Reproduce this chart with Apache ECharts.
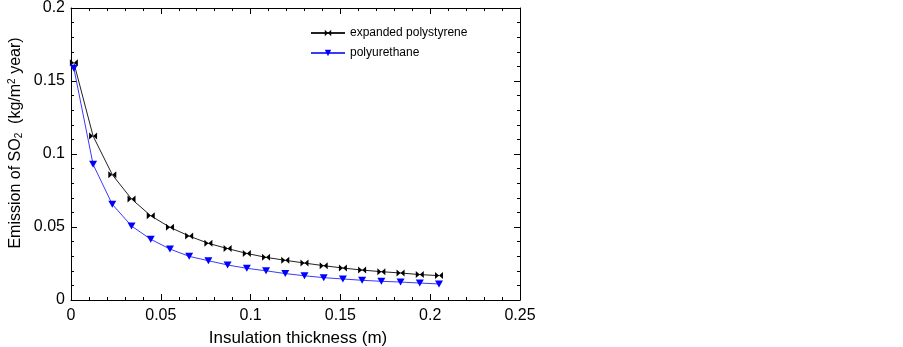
<!DOCTYPE html>
<html>
<head>
<meta charset="utf-8">
<script src="https://cdn.jsdelivr.net/npm/echarts@6/dist/echarts.min.js"></script>
<style>
  html, body { margin: 0; padding: 0; background: #fff; }
  #chart { width: 903px; height: 347px; }
</style>
</head>
<body>
<div id="chart"></div>
<script>
const thickness = [0.0016, 0.0123, 0.0230, 0.0337, 0.0444, 0.0551, 0.0658, 0.0765, 0.0872, 0.0979,
  0.1086, 0.1193, 0.1300, 0.1407, 0.1514, 0.1621, 0.1728, 0.1835, 0.1942, 0.2049];
const polystyrene = [0.1625, 0.1123, 0.0858, 0.0692, 0.0577, 0.0498, 0.0438, 0.0388, 0.0352, 0.0319,
  0.0292, 0.0272, 0.0253, 0.0235, 0.0219, 0.0205, 0.0194, 0.0185, 0.0174, 0.0167];
const polyurethane = [0.1587, 0.0929, 0.0655, 0.0507, 0.0416, 0.0349, 0.0299, 0.0269, 0.0240, 0.0217,
  0.0200, 0.0181, 0.0166, 0.0153, 0.0144, 0.0135, 0.0128, 0.0123, 0.0116, 0.0110];

const bowtie = 'path://M0,0 L5,5 L0,10 Z M10,0 L5,5 L10,10 Z M4.5,4.5 L5.5,4.5 L5.5,5.5 L4.5,5.5 Z';
const font = 'Liberation Sans, Arial, sans-serif';

const chart = echarts.init(document.getElementById('chart'));

const axisLine = { show: true, onZero: false, lineStyle: { color: '#000', width: 1 } };
const tick = { show: true, inside: true, length: 6, lineStyle: { color: '#000' } };
const minor = { show: true, splitNumber: 5, length: 3, lineStyle: { color: '#000' } };

chart.setOption({
  animation: false,
  backgroundColor: '#fff',
  grid: { left: 71, top: 8, right: 383, bottom: 47, outerBoundsMode: 'none' },
  legend: {
    left: 305,
    top: 22,
    orient: 'vertical',
    itemWidth: 34,
    itemHeight: 8,
    itemGap: 8,
    textStyle: { fontFamily: font, fontSize: 12, color: '#000' },
    data: ['expanded polystyrene', 'polyurethane']
  },
  xAxis: [{
    type: 'value',
    min: 0, max: 0.25, interval: 0.05,
    name: 'Insulation thickness (m)',
    nameLocation: 'middle',
    nameGap: 30,
    nameTextStyle: { fontFamily: font, fontSize: 17, color: '#000', padding: [0, 0, 0, 5] },
    axisLine: axisLine, axisTick: tick, minorTick: minor,
    splitLine: { show: false },
    axisLabel: { fontFamily: font, fontSize: 16, color: '#000', margin: 8 }
  }, {
    type: 'value', position: 'top',
    min: 0, max: 0.25, interval: 0.05,
    axisLine: axisLine, axisTick: tick, minorTick: minor,
    splitLine: { show: false }, axisLabel: { show: false }
  }],
  yAxis: [{
    type: 'value',
    min: 0, max: 0.2, interval: 0.05,
    name: 'Emission of SO{sub|2}  (kg/m{sup|2} year)',
    nameLocation: 'middle',
    nameGap: 47,
    nameTextStyle: {
      fontFamily: font, fontSize: 16, color: '#000',
      padding: [0, 0, 0, 22],
      rich: {
        sub: { fontFamily: font, fontSize: 10, color: '#000', verticalAlign: 'bottom', padding: [7, 0, 0, 0] },
        sup: { fontFamily: font, fontSize: 10, color: '#000', verticalAlign: 'top', padding: [0, 0, 7, 0] }
      }
    },
    axisLine: axisLine, axisTick: tick, minorTick: minor,
    splitLine: { show: false },
    axisLabel: { fontFamily: font, fontSize: 16, color: '#000', margin: 6 }
  }, {
    type: 'value', position: 'right',
    min: 0, max: 0.2, interval: 0.05,
    axisLine: axisLine, axisTick: tick, minorTick: minor,
    splitLine: { show: false }, axisLabel: { show: false }
  }],
  series: [{
    name: 'expanded polystyrene',
    type: 'line',
    data: thickness.map((x, i) => [x, polystyrene[i]]),
    symbol: bowtie,
    symbolSize: [8, 7],
    showAllSymbol: true,
    lineStyle: { color: '#222', width: 1 },
    itemStyle: { color: '#000' }
  }, {
    name: 'polyurethane',
    type: 'line',
    data: thickness.map((x, i) => [x, polyurethane[i]]),
    symbol: 'triangle',
    symbolRotate: 180,
    symbolSize: [8, 7],
    showAllSymbol: true,
    lineStyle: { color: '#3a3aff', width: 1 },
    itemStyle: { color: '#0000ff' }
  }]
});
</script>
</body>
</html>
